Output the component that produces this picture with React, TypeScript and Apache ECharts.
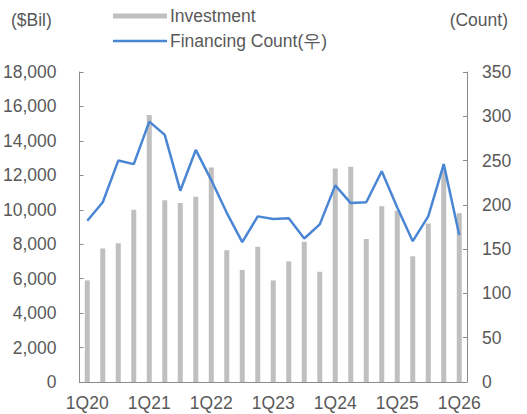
import React, { useEffect, useRef } from "react";
import * as echarts from "echarts";

const categories = [
  "1Q20", "2Q20", "3Q20", "4Q20",
  "1Q21", "2Q21", "3Q21", "4Q21",
  "1Q22", "2Q22", "3Q22", "4Q22",
  "1Q23", "2Q23", "3Q23", "4Q23",
  "1Q24", "2Q24", "3Q24", "4Q24",
  "1Q25", "2Q25", "3Q25", "4Q25",
  "1Q26",
];
const investment = [
  5900, 7750, 8050, 10000,
  15500, 10550, 10400, 10750,
  12450, 7650, 6500, 7850,
  5900, 7000, 8150, 6400,
  12400, 12500, 8300, 10200,
  9950, 7300, 9200, 12300,
  9800,
];
const financingCount = [
  182, 203, 250, 246,
  294, 279, 216, 262,
  228, 191, 158, 187,
  184, 185, 162, 178,
  222, 202, 203, 238,
  197, 159, 187, 246,
  166,
];
const investName = "Investment";
const countName = "Financing Count(우)";
const leftUnit = "($Bil)";
const rightUnit = "(Count)";

const FONT = "Liberation Sans";
const FS = 17.5;
const TEXT = "#595959";
const AXIS = "#8c8c8c";

export default function App() {
  const ref = useRef<HTMLDivElement>(null);
  useEffect(() => {
    if (!ref.current) return;
    const chart = echarts.init(ref.current, undefined, { renderer: "svg" });
    chart.setOption({
      animation: false,
      textStyle: { fontFamily: FONT },
      grid: { left: 78, right: 60, top: 72, bottom: 32 },
      legend: [
        {
          data: [{ name: investName, icon: "rect" }],
          left: 113,
          top: 7,
          padding: 0,
          itemWidth: 54,
          itemHeight: 5,
          textStyle: { fontSize: FS, color: TEXT, fontFamily: FONT, padding: [0, 0, 0, -2] },
        },
        {
          data: [{ name: countName, icon: "rect" }],
          left: 113,
          top: 32,
          padding: 0,
          itemWidth: 54,
          itemHeight: 2.5,
          textStyle: { fontSize: FS, color: TEXT, fontFamily: FONT, padding: [0, 0, 0, -2] },
        },
      ],
      graphic: [
        {
          type: "text",
          left: 11,
          top: 11,
          style: { text: leftUnit, fontSize: FS, fill: TEXT, fontFamily: FONT },
        },
        {
          type: "text",
          right: 19,
          top: 11,
          style: { text: rightUnit, fontSize: FS, fill: TEXT, fontFamily: FONT },
        },
      ],
      xAxis: {
        type: "category",
        data: categories,
        boundaryGap: true,
        axisLine: { lineStyle: { color: AXIS, width: 1 } },
        axisTick: { inside: true, length: 5, interval: 0, lineStyle: { color: AXIS } },
        axisLabel: { interval: 3, color: TEXT, fontSize: FS, fontFamily: FONT, margin: 12 },
        splitLine: { show: false },
      },
      yAxis: [
        {
          type: "value",
          min: 0,
          max: 18000,
          interval: 2000,
          axisLine: { show: true, lineStyle: { color: AXIS } },
          axisTick: { show: true, inside: true, length: 4, lineStyle: { color: AXIS } },
          axisLabel: {
            color: TEXT,
            fontSize: FS,
            fontFamily: FONT,
            margin: 23,
            formatter: (v: number) => v.toLocaleString("en-US"),
          },
          splitLine: { show: false },
        },
        {
          type: "value",
          min: 0,
          max: 350,
          interval: 50,
          position: "right",
          axisLine: { show: true, lineStyle: { color: AXIS } },
          axisTick: { show: true, inside: true, length: 4, lineStyle: { color: AXIS } },
          axisLabel: { color: TEXT, fontSize: FS, fontFamily: FONT, margin: 15 },
          splitLine: { show: false },
        },
      ],
      series: [
        {
          name: investName,
          type: "bar",
          data: investment,
          barWidth: 5,
          itemStyle: { color: "#bfbfbf" },
          yAxisIndex: 0,
        },
        {
          name: countName,
          type: "line",
          data: financingCount,
          yAxisIndex: 1,
          symbol: "none",
          lineStyle: { color: "#4a86d4", width: 2.5 },
          itemStyle: { color: "#4a86d4" },
        },
      ],
    });
    return () => chart.dispose();
  }, []);
  return <div ref={ref} style={{ width: 527, height: 414, position: "absolute", left: 0, top: 0 }} />;
}
